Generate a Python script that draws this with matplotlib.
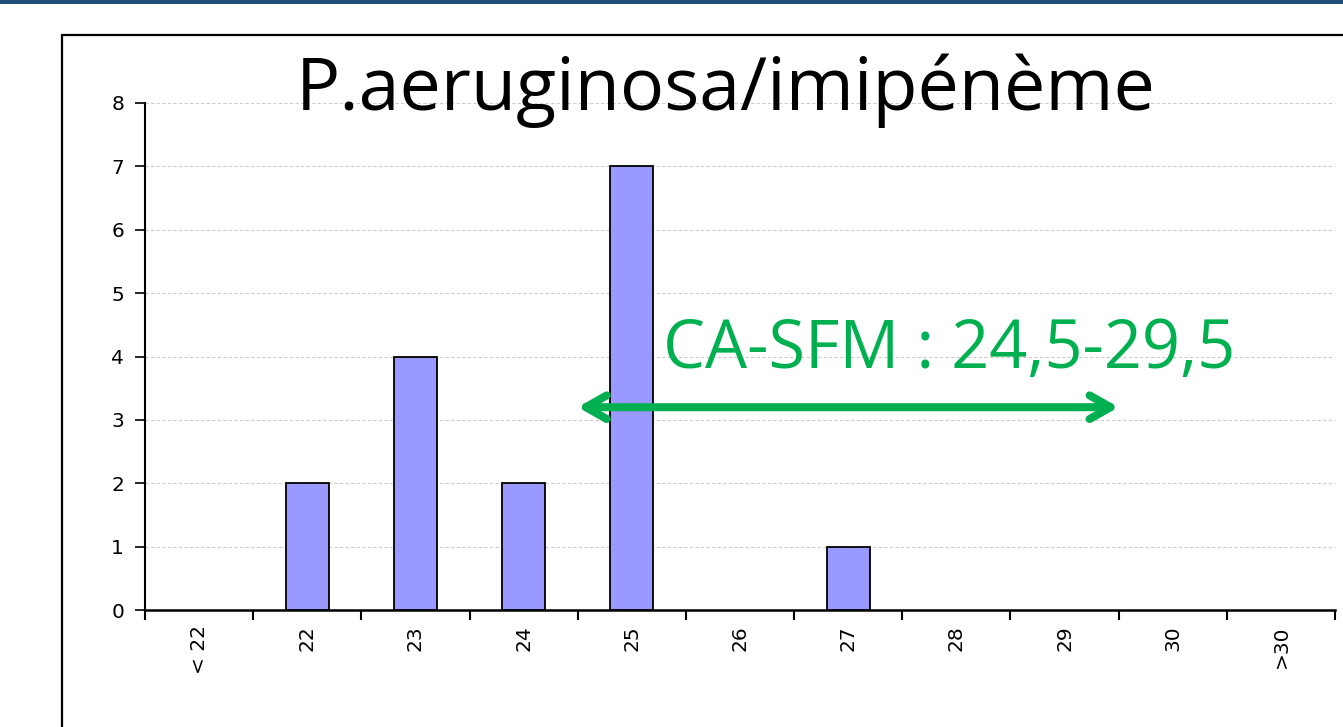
import matplotlib
matplotlib.use("Agg")
import matplotlib.pyplot as plt
from matplotlib.patches import Rectangle

categories = ["< 22", "22", "23", "24", "25", "26", "27", "28", "29", "30", ">30"]
counts = [0, 2, 4, 2, 7, 0, 1, 0, 0, 0, 0]
title = "P.aeruginosa/imipénème"
range_label = "CA-SFM : 24,5-29,5"
range_low, range_high = 24.5, 29.5
first_numeric = 22  # category index 1

W, H = 1343, 727
fig = plt.figure(figsize=(W / 100, H / 100), dpi=100)
fig.patch.set_facecolor("white")

# top blue band
fig.add_artist(Rectangle((0, 1 - 4 / H), 1, 4 / H, transform=fig.transFigure,
                         facecolor="#1F4E79", edgecolor="none"))
# outer chart frame
fig.add_artist(Rectangle((62 / W, -0.05), 1.2, 1 - 35 / H + 0.05, transform=fig.transFigure,
                         facecolor="none", edgecolor="black", linewidth=1.6))

ax = fig.add_axes([145 / W, (H - 610) / H, (1335 - 145) / W, (610 - 103) / H])
x = list(range(len(categories)))
bars = ax.bar(x, counts, width=0.4, color="#9999FF", edgecolor="black", linewidth=1.3, zorder=3)
for b, v in zip(bars, counts):
    if v == 0:
        b.set_visible(False)
ax.set_xlim(-0.5, len(categories) - 0.5)
ax.set_ylim(0, 8)
ax.set_yticks(range(0, 9))
ax.yaxis.grid(True, color="#CCCCCC", linestyle=(0, (3, 2)), linewidth=0.8, zorder=0)
ax.set_xticks([i + 0.5 for i in range(-1, len(categories))], minor=False)
ax.set_xticklabels([])
ax.set_xticks(x, minor=True)
ax.set_xticklabels(categories, minor=True, rotation=90, fontsize=14.5, family="DejaVu Sans")
ax.tick_params(axis="x", which="major", length=7, width=1.5, direction="out")
ax.tick_params(axis="x", which="minor", length=0, pad=11)
ax.tick_params(axis="y", length=7, width=1.2, labelsize=14.5, pad=8)
for s in ["top", "right"]:
    ax.spines[s].set_visible(False)
ax.spines["left"].set_linewidth(1.5)
ax.spines["bottom"].set_linewidth(1.8)

fig.text(726 / W, 1 - 110 / H, title, ha="center", va="baseline", fontsize=53,
         family="Open Sans", color="black")

lo = range_low - first_numeric + 1
hi = range_high - first_numeric + 1
ax.annotate("", xy=(lo, 3.2), xytext=(hi, 3.2),
            arrowprops=dict(arrowstyle="<->,head_length=1.5,head_width=0.85",
                            color="#00B050", lw=5.8, shrinkA=0, shrinkB=0), zorder=5)
ax.text(949 / W, 1 - 368 / H, range_label, ha="center", va="baseline", fontsize=48,
        family="Open Sans", color="#00B050", zorder=6, transform=fig.transFigure)

fig.savefig("out.png", dpi=100)
